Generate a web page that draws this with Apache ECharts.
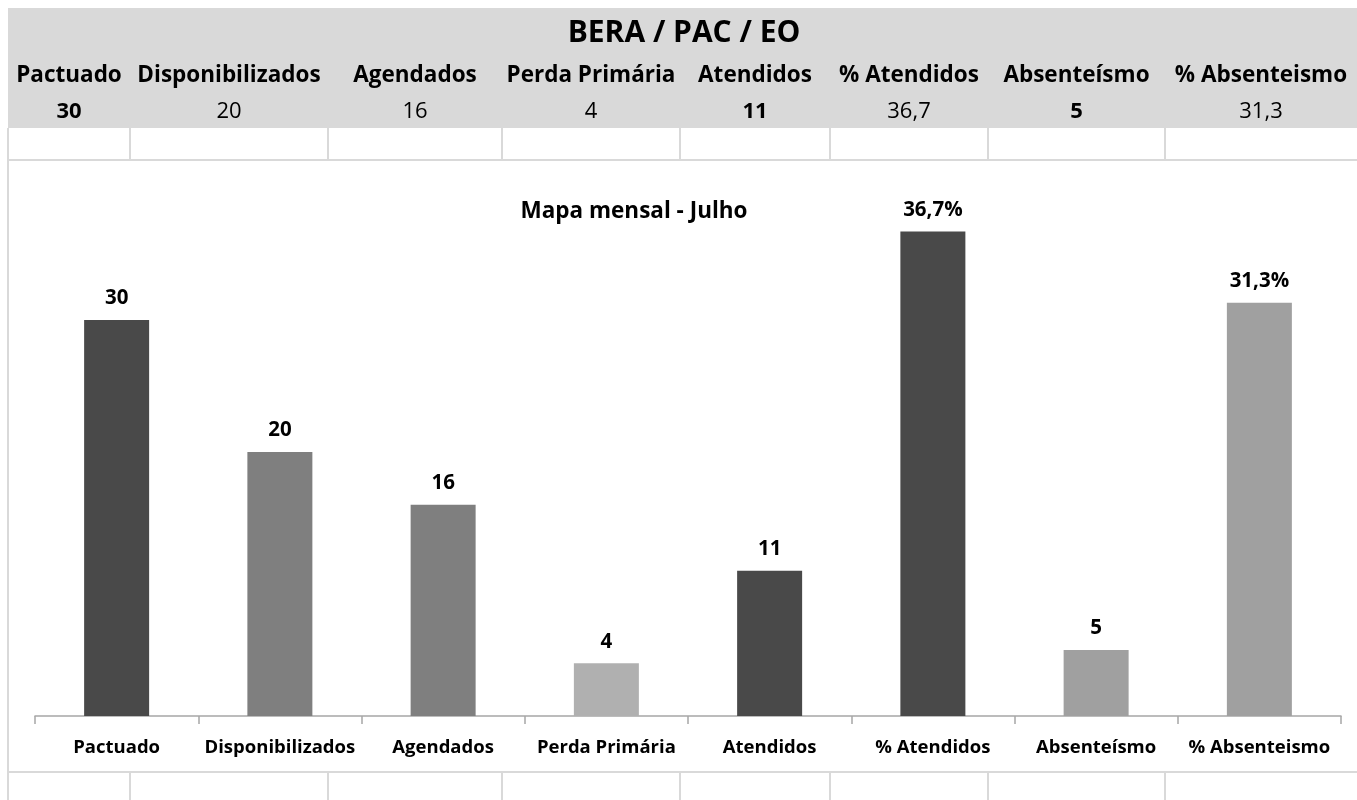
<!DOCTYPE html>
<html>
<head>
<meta charset="utf-8">
<script src="https://cdn.jsdelivr.net/npm/echarts@6/dist/echarts.min.js"></script>
<style>
  html, body { margin: 0; padding: 0; background: #ffffff; }
  #chart { width: 1357px; height: 800px; }
</style>
</head>
<body>
<div id="chart"></div>
<script>
// Monthly indicators - BERA / PAC / EO
const sheetTitle = 'BERA / PAC / EO';
const chartTitle = 'Mapa mensal - Julho';
const categories = ['Pactuado', 'Disponibilizados', 'Agendados', 'Perda Primária', 'Atendidos', '% Atendidos', 'Absenteísmo', '% Absenteismo'];
const values = [30, 20, 16, 4, 11, 36.7, 5, 31.3];
const percentColumns = [false, false, false, false, false, true, false, true];
const boldValueColumns = [true, false, false, false, true, false, true, false];

// bar shades per column
const barColors = ['#494949', '#7f7f7f', '#7f7f7f', '#b0b0b0', '#494949', '#494949', '#a0a0a0', '#a0a0a0'];

const FONT = '"Open Sans", "Noto Sans", sans-serif';
const W = 1357;
// sheet cell boundaries (x)
const cellEdges = [8, 130, 328, 502, 680, 830, 988, 1165, 1357];
const gridColor = '#d9d9d9';

function fmt(v) {
  return String(v).replace('.', ',');
}

const graphics = [];
// grey header band
graphics.push({ type: 'rect', shape: { x: 8, y: 8, width: W - 8, height: 120 }, style: { fill: '#d9d9d9' }, silent: true });
graphics.push({
  type: 'text', x: 684, y: 33,
  style: { text: sheetTitle, font: 'bold 30px ' + FONT, fill: '#000', align: 'center', verticalAlign: 'middle' }
});
categories.forEach((c, i) => {
  const cx = (cellEdges[i] + cellEdges[i + 1]) / 2;
  graphics.push({
    type: 'text', x: cx, y: 76,
    style: { text: c, font: 'bold 22.5px ' + FONT, fill: '#000', align: 'center', verticalAlign: 'middle' }
  });
  graphics.push({
    type: 'text', x: cx, y: 112,
    style: { text: fmt(values[i]), font: (boldValueColumns[i] ? 'bold ' : '') + '22px ' + FONT, fill: '#000', align: 'center', verticalAlign: 'middle' }
  });
});
// sheet grid lines around the chart
const lineStyle = { stroke: gridColor, lineWidth: 2 };
graphics.push({ type: 'line', shape: { x1: 8, y1: 128, x2: 8, y2: 800 }, style: lineStyle, silent: true });
graphics.push({ type: 'line', shape: { x1: 8, y1: 160, x2: W, y2: 160 }, style: lineStyle, silent: true });
graphics.push({ type: 'line', shape: { x1: 8, y1: 772, x2: W, y2: 772 }, style: lineStyle, silent: true });
cellEdges.slice(1, -1).forEach(x => {
  graphics.push({ type: 'line', shape: { x1: x, y1: 128, x2: x, y2: 160 }, style: lineStyle, silent: true });
  graphics.push({ type: 'line', shape: { x1: x, y1: 772, x2: x, y2: 800 }, style: lineStyle, silent: true });
});

const chart = echarts.init(document.getElementById('chart'), null, { renderer: 'canvas' });
chart.setOption({
  backgroundColor: '#ffffff',
  animation: false,
  title: {
    text: chartTitle,
    left: 629, top: 195,
    textAlign: 'center',
    textStyle: { fontFamily: FONT, fontWeight: 'bold', fontSize: 22.5, color: '#000' }
  },
  grid: { left: 35, right: 16, top: 188, bottom: 84, containLabel: false },
  xAxis: {
    type: 'category',
    data: categories,
    boundaryGap: true,
    axisLine: { show: true, lineStyle: { color: '#a6a6a6', width: 1.5 } },
    axisTick: { show: true, length: 8, lineStyle: { color: '#a6a6a6', width: 1.5 } },
    axisLabel: { color: '#000', fontFamily: FONT, fontWeight: 'bold', fontSize: 18.5, margin: 22, interval: 0 }
  },
  yAxis: {
    type: 'value', min: 0, max: 40, interval: 5,
    show: false, splitLine: { show: false }
  },
  series: [{
    type: 'bar',
    barWidth: 65,
    data: values.map((v, i) => ({ value: v, itemStyle: { color: barColors[i] } })),
    label: {
      show: true, position: 'top', distance: 11,
      color: '#000', fontFamily: FONT, fontWeight: 'bold', fontSize: 20.5,
      formatter: p => fmt(p.value) + (percentColumns[p.dataIndex] ? '%' : '')
    }
  }],
  graphic: graphics
});
</script>
</body>
</html>
